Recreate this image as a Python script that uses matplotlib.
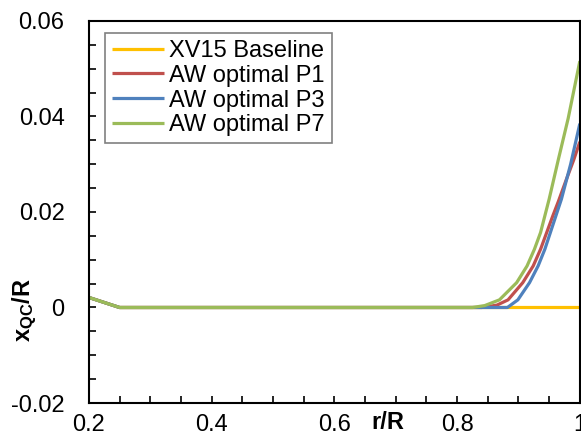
import matplotlib
matplotlib.use("Agg")
import matplotlib.pyplot as plt
from matplotlib.ticker import MultipleLocator

plt.rcParams["font.family"] = ["Liberation Sans", "DejaVu Sans"]
plt.rcParams["mathtext.fontset"] = "custom"
plt.rcParams["mathtext.rm"] = "Liberation Sans"
plt.rcParams["mathtext.bf"] = "Liberation Sans:bold"

# data
r_base = [0.2, 0.25, 0.5, 0.75, 1.0]
x_base = [0.0021, 0.0, 0.0, 0.0, 0.0]

r_p1 = [0.2, 0.25, 0.5, 0.8, 0.84, 0.865, 0.883, 0.907, 0.924, 0.936, 0.946,
        0.956, 0.965, 0.978, 0.99, 1.0]
x_p1 = [0.0021, 0.0, 0.0, 0.0, 0.0, 0.0005, 0.0016, 0.0052, 0.0087, 0.0122, 0.0157,
        0.0192, 0.0222, 0.0268, 0.0309, 0.0347]

r_p3 = [0.2, 0.25, 0.5, 0.8, 0.882, 0.899, 0.918, 0.932, 0.943, 0.952, 0.961,
        0.970, 0.985, 1.0]
x_p3 = [0.0021, 0.0, 0.0, 0.0, 0.0, 0.0016, 0.0052, 0.0087, 0.0122, 0.0157, 0.0192,
        0.0227, 0.0300, 0.0385]

r_p7 = [0.2, 0.25, 0.5, 0.8, 0.825, 0.845, 0.869, 0.897, 0.914, 0.926, 0.936,
        0.943, 0.950, 0.965, 0.981, 1.0]
x_p7 = [0.0021, 0.0, 0.0, 0.0, 0.0, 0.0004, 0.0016, 0.0052, 0.0087, 0.0122, 0.0157,
        0.0192, 0.0227, 0.0310, 0.0396, 0.0516]

labels = ["XV15 Baseline", "AW optimal P1", "AW optimal P3", "AW optimal P7"]
colors = ["#FFC000", "#C0504D", "#4F81BD", "#9BBB59"]

fig = plt.figure(figsize=(5.81, 4.46), dpi=100)
ax = fig.add_axes([0.153, 0.0964, 0.845, 0.8566])

series = [(r_base, x_base), (r_p1, x_p1), (r_p3, x_p3), (r_p7, x_p7)]
for (r, x), lab, col in zip(series, labels, colors):
    ax.plot(r, x, color=col, linewidth=2.3, label=lab,
            solid_joinstyle="round", solid_capstyle="butt")

ax.set_xlim(0.2, 1.0)
ax.set_ylim(-0.02, 0.06)
ax.xaxis.set_minor_locator(MultipleLocator(0.05))
ax.yaxis.set_minor_locator(MultipleLocator(0.005))
ax.set_xticks([0.2, 0.4, 0.6, 0.8, 1.0])
ax.set_xticklabels(["0.2", "0.4", "0.6", "0.8", "1"])
ax.set_yticks([-0.02, 0, 0.02, 0.04, 0.06])
ax.set_yticklabels(["-0.02", "0", "0.02", "0.04", "0.06"])
ax.tick_params(which="both", direction="in", labelsize=17, width=1.2)
ax.tick_params(which="major", length=5)
ax.tick_params(which="minor", length=5)
ax.tick_params(axis="x", pad=8)
ax.tick_params(axis="y", pad=17.5)
for sp in ax.spines.values():
    sp.set_linewidth(1.5)

ax.text(0.687, -0.052, "r/R", transform=ax.get_xaxis_transform(),
        fontsize=17, fontweight="bold", ha="center", va="center")
fig.text(0.043, 0.305, r"$\mathbf{x_{QC}/R}$", fontsize=17, rotation=90,
         ha="center", va="center")

leg = ax.legend(loc="upper left", bbox_to_anchor=(0.033, 0.969), borderaxespad=0,
                fontsize=17, handlelength=2.2, handletextpad=0.2, labelspacing=0.12,
                borderpad=0.3, fancybox=False, framealpha=1, edgecolor="#808080")
leg.get_frame().set_linewidth(1.2)

fig.savefig("out.png", dpi=100)
